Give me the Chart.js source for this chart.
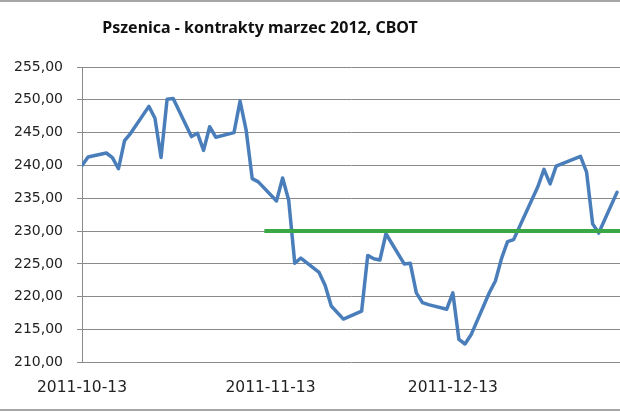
<!DOCTYPE html>
<html>
<head>
<meta charset="utf-8">
<script src="https://cdn.jsdelivr.net/npm/chart.js@4.4.1/dist/chart.umd.min.js"></script>
<style>
  html, body { margin: 0; padding: 0; background: #fff; }
  #box { position: relative; width: 620px; height: 413px; overflow: hidden; }
  #tytul {
    position: absolute; left: 0; top: 16px; width: 520px; text-align: center;
    font-family: "Noto Sans", sans-serif; font-weight: bold; font-size: 16px; color: #111;
  }
  #ramkaGora { position: absolute; left: 0; top: 0; width: 620px; height: 2px; background: #a6a6a6; }
  #ramkaDol { position: absolute; left: 0; top: 409px; width: 620px; height: 2px; background: #a6a6a6; }
  canvas { position: absolute; left: 0; top: 0; }
</style>
</head>
<body>
<div id="box">
  <canvas id="wykres" width="620" height="413"></canvas>
  <div id="tytul">Pszenica - kontrakty marzec 2012, CBOT</div>
  <div id="ramkaGora"></div>
  <div id="ramkaDol"></div>
</div>
<script>
const dataStart = '2011-10-13';
const dataKoniec = '2012-01-10';

const daty = [
  '2011-10-13', '2011-10-14', '2011-10-17', '2011-10-18', '2011-10-19', '2011-10-20', '2011-10-21',
  '2011-10-24', '2011-10-25', '2011-10-26', '2011-10-27', '2011-10-28', '2011-10-31',
  '2011-11-01', '2011-11-02', '2011-11-03', '2011-11-04', '2011-11-07', '2011-11-08', '2011-11-09',
  '2011-11-10', '2011-11-11', '2011-11-14', '2011-11-15', '2011-11-16', '2011-11-17', '2011-11-18',
  '2011-11-21', '2011-11-22', '2011-11-23', '2011-11-25', '2011-11-28', '2011-11-29', '2011-11-30',
  '2011-12-01', '2011-12-02', '2011-12-05', '2011-12-06', '2011-12-07', '2011-12-08', '2011-12-09',
  '2011-12-12', '2011-12-13', '2011-12-14', '2011-12-15', '2011-12-16', '2011-12-19', '2011-12-20',
  '2011-12-21', '2011-12-22', '2011-12-23', '2011-12-27', '2011-12-28', '2011-12-29', '2011-12-30',
  '2012-01-03', '2012-01-04', '2012-01-05', '2012-01-06', '2012-01-09'
];

const ceny = [
  240.0, 241.3, 241.9, 241.2, 239.5, 243.8, 244.9,
  249.0, 247.2, 241.2, 250.1, 250.2, 244.4,
  244.9, 242.3, 245.9, 244.3, 245.0, 249.8, 245.4,
  238.0, 237.5, 234.6, 238.1, 234.7, 225.1, 225.9,
  223.7, 221.7, 218.6, 216.6, 217.8, 226.3, 225.8,
  225.6, 229.6, 225.0, 225.1, 220.6, 219.1, 218.8,
  218.1, 220.6, 213.5, 212.8, 214.2, 220.6, 222.4,
  225.8, 228.4, 228.7, 236.8, 239.4, 237.2, 239.9,
  241.4, 239.0, 231.1, 229.7, 235.9
];

// poziom 230 (zielona linia)
const poziomDaty = ['2011-11-12', '2012-01-10'];
const poziomCeny = [230, 230];

const etykietyX = ['2011-10-13', '2011-11-13', '2011-12-13'];

const DZIEN = 86400000;
const baza = new Date(dataStart).getTime();

function dni(d) {
  return (new Date(d).getTime() - baza) / DZIEN;
}

function punkty(listaDat, wartosci) {
  return listaDat.map((d, i) => ({ x: dni(d), y: wartosci[i] }));
}

const czcionkaY = { family: '"DejaVu Sans", sans-serif', size: 14 };
const czcionkaX = { family: '"DejaVu Sans", sans-serif', size: 15.5 };

const ctx = document.getElementById('wykres');
const wykres = new Chart(ctx, {
  type: 'line',
  data: {
    datasets: [
      {
        label: 'poziom',
        data: punkty(poziomDaty, poziomCeny),
        borderColor: '#3aa845',
        borderWidth: 4,
        borderCapStyle: 'butt',
        pointRadius: 0,
        tension: 0
      },
      {
        label: 'Pszenica',
        data: punkty(daty, ceny),
        borderColor: '#4a7ebb',
        borderWidth: 3.5,
        borderJoinStyle: 'round',
        borderCapStyle: 'round',
        pointRadius: 0,
        tension: 0
      }
    ]
  },
  options: {
    responsive: false,
    animation: false,
    layout: { padding: { top: 67, bottom: 0, left: 0, right: 0 } },
    plugins: {
      legend: { display: false },
      title: { display: false },
      tooltip: { enabled: false }
    },
    scales: {
      x: {
        type: 'linear',
        min: 0,
        max: dni(dataKoniec) - 0.5,
        grid: { display: false, drawTicks: false },
        border: { display: false },
        afterBuildTicks: (scale) => {
          scale.ticks = etykietyX.map(d => ({ value: dni(d) }));
        },
        ticks: {
          padding: 16,
          color: '#222',
          font: czcionkaX,
          maxRotation: 0,
          autoSkip: false,
          callback: (v) => new Date(baza + v * DZIEN).toISOString().slice(0, 10)
        }
      },
      y: {
        min: 210,
        max: 255,
        afterFit: (scale) => { scale.width = 82; },
        grid: { color: '#8a8a8a', lineWidth: 1, tickLength: 5 },
        border: { display: true, color: '#8a8a8a', width: 1 },
        ticks: {
          stepSize: 5,
          padding: 14,
          color: '#222',
          font: czcionkaY,
          callback: (v) => v.toFixed(2).replace('.', ',')
        }
      }
    }
  }
});
</script>
</body>
</html>
